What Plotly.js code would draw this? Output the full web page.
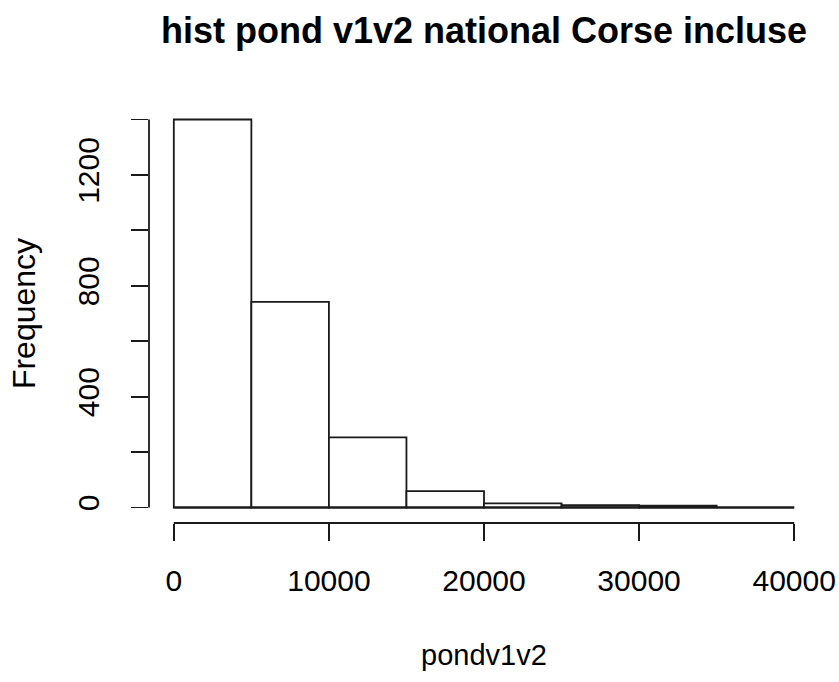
<!DOCTYPE html>
<html>
<head>
<meta charset="utf-8">
<script src="https://cdn.plot.ly/plotly-3.0.1.min.js"></script>
<style>html,body{margin:0;padding:0;background:#fff;}#chart{width:839px;height:682px;}</style>
</head>
<body>
<div id="chart"></div>
<script>
// Histogram of pondv1v2 (R hist output)
var binEdges = [0, 5000, 10000, 15000, 20000, 25000, 30000, 35000, 40000];
var counts = [1400, 742, 253, 59, 15, 8, 7, 0];
var xTicks = [0, 10000, 20000, 30000, 40000];
var xTickLabels = ['0', '10000', '20000', '30000', '40000'];
var yTicks = [0, 200, 400, 600, 800, 1000, 1200, 1400];
var yTickLabels = ['0', '', '400', '', '800', '', '1200', ''];
var titleText = 'hist pond v1v2 national Corse incluse';
var xLabel = 'pondv1v2';
var yLabel = 'Frequency';

var binStarts = binEdges.slice(0, -1);
var binWidths = binStarts.map(function (s, i) { return binEdges[i + 1] - s; });

var FONT = 'Liberation Sans, Arial, sans-serif';
var INK = '#000000';

var traces = [
  {
    type: 'bar',
    x: binStarts,
    y: counts,
    width: binWidths,
    offset: 0,
    marker: { color: '#ffffff', line: { color: '#1a1a1a', width: 1.8 } },
    hoverinfo: 'x+y',
    showlegend: false
  },
  {
    type: 'scatter',
    mode: 'lines',
    x: [binEdges[0], binEdges[binEdges.length - 1]],
    y: [0, 0],
    line: { color: '#1a1a1a', width: 1.8 },
    hoverinfo: 'skip',
    showlegend: false
  }
];

var layout = {
  width: 839,
  height: 682,
  paper_bgcolor: '#ffffff',
  plot_bgcolor: '#ffffff',
  margin: { l: 149, r: 20, t: 104, b: 159 },
  bargap: 0,
  title: {
    text: '<b>' + titleText + '</b>',
    font: { family: FONT, size: 36, color: INK },
    xref: 'paper', x: 0.5, xanchor: 'center',
    yref: 'container', y: 1 - 30 / 682, yanchor: 'middle'
  },
  xaxis: {
    range: [-1600, 41600],
    tickmode: 'array',
    tickvals: xTicks,
    ticktext: xTickLabels,
    ticks: 'outside',
    ticklen: 17,
    tickwidth: 1.8,
    tickcolor: '#1a1a1a',
    ticklabelstandoff: 14,
    tickfont: { family: FONT, size: 30, color: INK },
    showgrid: false,
    zeroline: false,
    showline: false,
    title: { text: xLabel, font: { family: FONT, size: 29, color: INK }, standoff: 48 }
  },
  yaxis: {
    range: [-56, 1456],
    tickmode: 'array',
    tickvals: yTicks,
    ticktext: yTickLabels,
    tickangle: -90,
    ticks: 'outside',
    ticklen: 17,
    tickwidth: 1.8,
    tickcolor: '#1a1a1a',
    ticklabelstandoff: 20,
    tickfont: { family: FONT, size: 30, color: INK },
    showgrid: false,
    zeroline: false,
    showline: false,
    title: { text: yLabel, font: { family: FONT, size: 32, color: INK }, standoff: 26 }
  },
  shapes: [
    {
      type: 'line', xref: 'x', yref: 'paper',
      x0: xTicks[0], x1: xTicks[xTicks.length - 1], y0: 0, y1: 0,
      line: { color: '#1a1a1a', width: 1.8 }
    },
    {
      type: 'line', xref: 'paper', yref: 'y',
      x0: 0, x1: 0, y0: yTicks[0], y1: yTicks[yTicks.length - 1],
      line: { color: '#1a1a1a', width: 1.8 }
    }
  ]
};

Plotly.newPlot('chart', traces, layout, { displayModeBar: false, staticPlot: true });
</script>
</body>
</html>
